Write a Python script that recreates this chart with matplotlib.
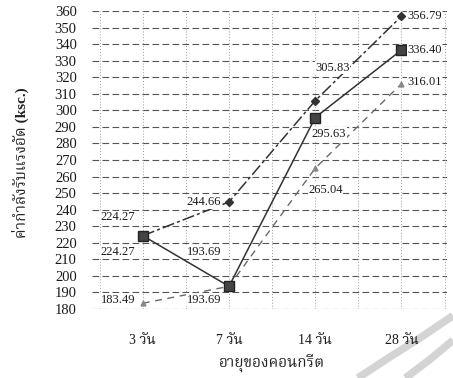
import matplotlib
matplotlib.use("Agg")
import matplotlib.pyplot as plt
from matplotlib.lines import Line2D

categories = ["3 วัน", "7 วัน", "14 วัน", "28 วัน"]
series_a = [224.27, 244.66, 305.83, 356.79]
series_b = [224.27, 193.69, 295.63, 336.40]
series_c = [183.49, 193.69, 265.04, 316.01]
y_ticks = list(range(180, 361, 10))
x_title = "อายุของคอนกรีต"
y_title = "ค่ากำลังรับแรงอัด (ksc.)"

FAM = ["Liberation Serif", "Noto Serif Thai"]
plt.rcParams["font.family"] = FAM

fig = plt.figure(figsize=(4.53, 3.78), dpi=100)

# light watermark bands (bottom right)
fig.add_artist(Line2D([0.79, 0.86, 0.93, 1.0], [0.0, 0.055, 0.108, 0.165],
                      transform=fig.transFigure, color="#d4d4d4", lw=5.5,
                      solid_capstyle="butt", zorder=0))
fig.add_artist(Line2D([0.895, 0.95, 1.0], [0.0, 0.05, 0.1],
                      transform=fig.transFigure, color="#d4d4d4", lw=5.5,
                      solid_capstyle="butt", zorder=0))

ax = fig.add_axes([0.203, 0.1825, 0.784, 0.7885])
ax.patch.set_alpha(0)
x = list(range(len(categories)))

ax.set_ylim(180, 360)
ax.set_xlim(-0.59, 3.53)
for v in y_ticks:
    ax.axhline(v, color="#555555", lw=0.8, ls=(0, (6, 3)), zorder=1)
for xv in [i * 0.5 - 0.5 for i in range(9)]:
    ax.axvline(xv, color="#999999", lw=0.7, ls=(0, (1, 2)), zorder=1)

ax.plot(x, series_c, color="#6a6a6a", lw=1.0, ls=(0, (5, 4)), marker="^", ms=3.5,
        mfc="#888888", mec="#888888", zorder=3)
ax.plot(x, series_a, color="#333333", lw=1.1, ls=(0, (8, 2, 2, 2)), marker="D", ms=4,
        mfc="#333333", mec="#333333", zorder=4)
ax.plot(x, series_b, color="#333333", lw=1.1, ls="-", marker="s", ms=6.5,
        mfc="#444444", mec="#222222", zorder=5)

for s in ax.spines.values():
    s.set_visible(False)
ax.set_yticks(y_ticks)
ax.set_yticklabels([str(v) for v in y_ticks], fontsize=10.5, color="#1a1a1a")
ax.set_xticks(x)
ax.set_xticklabels(categories, fontsize=10, color="#1a1a1a")
ax.tick_params(axis="y", length=0, pad=11)
ax.tick_params(axis="x", length=0, pad=18)

lab = dict(fontsize=9, color="#1a1a1a", ha="center", va="center", zorder=6,
           bbox=dict(boxstyle="square,pad=0.05", fc="white", ec="none"))
ax.text(-0.29, series_a[0] + 11, f"{series_a[0]:.2f}", **lab)
ax.text(-0.29, series_b[0] - 10, f"{series_b[0]:.2f}", **lab)
ax.text(-0.29, series_c[0] + 2, f"{series_c[0]:.2f}", **lab)
ax.text(0.71, series_a[1], f"{series_a[1]:.2f}", **lab)
ax.text(0.71, series_b[1] + 21, f"{series_b[1]:.2f}", **lab)
ax.text(0.71, series_c[1] - 8, f"{series_c[1]:.2f}", **lab)
ax.text(2.2, series_a[2] + 20, f"{series_a[2]:.2f}", **lab)
ax.text(2.16, series_b[2] - 10, f"{series_b[2]:.2f}", **lab)
ax.text(2.12, series_c[2] - 13, f"{series_c[2]:.2f}", **lab)
lab_r = dict(lab, ha="left")
lab_r["bbox"] = dict(boxstyle="square,pad=0.0", fc="white", ec="none")
ax.text(3.07, series_a[3], f"{series_a[3]:.2f}", **lab_r)
ax.text(3.07, series_b[3], f"{series_b[3]:.2f}", **lab_r)
ax.text(3.07, series_c[3] + 1, f"{series_c[3]:.2f}", **lab_r)

fig.text(0.6, 0.04, x_title, ha="center", va="center", fontsize=11, fontweight="bold",
         color="#222222")
fig.text(0.045, 0.57, y_title, ha="center", va="center", rotation=90, fontsize=11,
         fontweight="bold", color="#222222")

fig.savefig("out.png", dpi=100)
